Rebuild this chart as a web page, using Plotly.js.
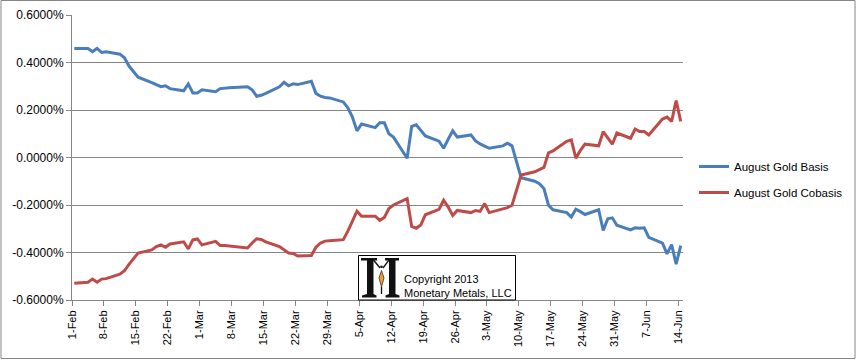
<!DOCTYPE html>
<html><head><meta charset="utf-8">
<script src="https://cdn.plot.ly/plotly-3.0.1.min.js"></script>
<style>html,body{margin:0;padding:0;background:#fff;}#chart{width:858px;height:361px;}</style>
</head><body><div id="chart"></div>
<script>
// Trading days, 1-Feb-2013 .. 14-Jun-2013
const dates = [
 '2013-02-01','2013-02-04','2013-02-05','2013-02-06','2013-02-07','2013-02-08','2013-02-11','2013-02-12','2013-02-13','2013-02-14','2013-02-15','2013-02-18','2013-02-19','2013-02-20','2013-02-21','2013-02-22','2013-02-25','2013-02-26','2013-02-27','2013-02-28',
 '2013-03-01','2013-03-04','2013-03-05','2013-03-06','2013-03-07','2013-03-08','2013-03-11','2013-03-12','2013-03-13','2013-03-14','2013-03-15','2013-03-18','2013-03-19','2013-03-20','2013-03-21','2013-03-22','2013-03-25','2013-03-26','2013-03-27','2013-03-28','2013-03-29',
 '2013-04-01','2013-04-02','2013-04-03','2013-04-04','2013-04-05','2013-04-08','2013-04-09','2013-04-10','2013-04-11','2013-04-12','2013-04-15','2013-04-16','2013-04-17','2013-04-18','2013-04-19','2013-04-22','2013-04-23','2013-04-24','2013-04-25','2013-04-26','2013-04-29','2013-04-30',
 '2013-05-01','2013-05-02','2013-05-03','2013-05-06','2013-05-07','2013-05-08','2013-05-09','2013-05-10','2013-05-13','2013-05-14','2013-05-15','2013-05-16','2013-05-17','2013-05-20','2013-05-21','2013-05-22','2013-05-23','2013-05-24','2013-05-27','2013-05-28','2013-05-29','2013-05-30','2013-05-31',
 '2013-06-03','2013-06-04','2013-06-05','2013-06-06','2013-06-07','2013-06-10','2013-06-11','2013-06-12','2013-06-13','2013-06-14'
];
// August Gold Basis (%)
const basis = [
 0.459,0.459,0.446,0.459,0.442,0.445,0.435,0.420,0.385,0.360,0.338,0.315,0.305,0.298,0.302,0.290,0.281,0.310,0.272,0.272,
 0.285,0.277,0.290,0.293,0.294,0.295,0.298,0.285,0.258,0.262,0.270,0.298,0.317,0.302,0.310,0.307,0.321,0.270,0.258,0.253,0.251,
 0.234,0.209,0.170,0.112,0.141,0.126,0.146,0.146,0.100,0.086,-0.003,0.131,0.138,0.112,0.091,0.069,0.039,0.077,0.112,0.086,0.095,0.070,
 0.057,0.048,0.039,0.049,0.060,0.049,-0.018,-0.085,-0.100,-0.110,-0.131,-0.201,-0.220,-0.232,-0.251,-0.218,-0.228,-0.240,-0.220,-0.307,-0.258,-0.254,-0.285,
 -0.305,-0.296,-0.298,-0.296,-0.336,-0.361,-0.406,-0.367,-0.449,-0.371
];
// August Gold Cobasis (%)
const cobasis = [
 -0.529,-0.525,-0.512,-0.525,-0.512,-0.510,-0.491,-0.477,-0.450,-0.425,-0.402,-0.389,-0.375,-0.368,-0.378,-0.364,-0.355,-0.385,-0.347,-0.343,
 -0.368,-0.353,-0.371,-0.371,-0.373,-0.376,-0.381,-0.360,-0.342,-0.345,-0.355,-0.375,-0.390,-0.402,-0.404,-0.415,-0.413,-0.378,-0.360,-0.352,-0.350,
 -0.346,-0.310,-0.270,-0.226,-0.247,-0.247,-0.265,-0.252,-0.215,-0.200,-0.173,-0.290,-0.298,-0.284,-0.241,-0.218,-0.180,-0.209,-0.244,-0.223,-0.232,-0.223,
 -0.227,-0.194,-0.232,-0.218,-0.211,-0.201,-0.138,-0.074,-0.060,-0.052,-0.042,0.020,0.028,0.068,0.074,-0.003,0.030,0.056,0.049,0.109,0.080,0.056,0.103,
 0.081,0.120,0.109,0.109,0.095,0.162,0.170,0.152,0.240,0.152
];
const seriesNames = ['August Gold Basis','August Gold Cobasis'];
const seriesColors = ['#4A7EBB','#BE4B48'];
const yTicks = [-0.6,-0.4,-0.2,0,0.2,0.4,0.6];
const yTickText = yTicks.map(v => v.toFixed(4) + '%');
const copyrightLines = ['Copyright 2013','Monetary Metals, LLC'];

const FONT = 'Liberation Sans, Arial, sans-serif';
const W = 858, H = 361, ML = 72, MR = 175, MT = 15, MB = 61;
const PW = W - ML - MR, PH = H - MT - MB;
const px = x => (x - ML) / PW;
const py = y => (H - MB - y) / PH;
const path = pts => 'M' + pts.map(p => px(p[0]).toFixed(5) + ',' + py(p[1]).toFixed(5)).join(' L') + ' Z';
const line = pts => 'M' + pts.map(p => px(p[0]).toFixed(5) + ',' + py(p[1]).toFixed(5)).join(' L');

const xs = dates.map(d => d + ' 12:00');
const traces = [basis, cobasis].map((ys, i) => ({
  type: 'scatter', mode: 'lines', x: xs, y: ys, name: seriesNames[i],
  legendgroup: 'g' + i,
  line: {color: seriesColors[i], width: 3}
}));

const shapes = [
  // chart outer frame
  {type:'rect', xref:'paper', yref:'paper', x0:px(1), x1:px(855), y0:py(358.5), y1:py(0.5), line:{color:'#868686', width:1}},
  // logo box
  {type:'rect', xref:'paper', yref:'paper', x0:px(358.5), x1:px(515.5), y0:py(300), y1:py(255.5), fillcolor:'#fff', line:{color:'#000', width:1}, layer:'above'},
  // logo "M" stems
  {type:'path', xref:'paper', yref:'paper', path: path([[361,258],[377,258],[377,260.5],[373.5,260.5],[373.5,294],[376.5,295.5],[376.5,297.5],[362,297.5],[362,295.5],[367,294],[367,260.5],[361,260.5]]), fillcolor:'#111', line:{width:0}},
  {type:'path', xref:'paper', yref:'paper', path: path([[385,258],[399,258],[399,260.5],[395.5,260.5],[395.5,294],[399.5,295.5],[399.5,297.5],[385.5,297.5],[385.5,295.5],[389,294],[389,260.5],[385,260.5]]), fillcolor:'#111', line:{width:0}},
  {type:'path', xref:'paper', yref:'paper', path: line([[373.5,260],[380,268]]), line:{color:'#111', width:1.3}},
  {type:'path', xref:'paper', yref:'paper', path: line([[389,260],[383,268]]), line:{color:'#111', width:1.3}},
  {type:'circle', xref:'paper', yref:'paper', x0:px(380.2), x1:px(382.8), y0:py(268), y1:py(265.4), fillcolor:'#111', line:{width:0}},
  {type:'path', xref:'paper', yref:'paper', path: path([[381.5,270.5],[384,278],[381.5,287],[379,278]]), fillcolor:'#F0A030', line:{color:'#333', width:0.8}},
  {type:'path', xref:'paper', yref:'paper', path: line([[381.5,287],[381.5,294]]), line:{color:'#111', width:1.3}}
];

const annotations = copyrightLines.map((t, i) => ({
  xref:'paper', yref:'paper', x:px(401.5), y:py(279 + i*13.5), xanchor:'left', yanchor:'middle',
  text:t, showarrow:false, font:{family:FONT, size:11, color:'#000'}
}));

const layout = {
  width: W, height: H,
  margin: {l: ML, r: MR, t: MT, b: MB, pad: 0, autoexpand: false},
  paper_bgcolor: '#fff', plot_bgcolor: '#fff',
  font: {family: FONT, color: '#000'},
  showlegend: true,
  legend: {xref: 'container', yref: 'container', x: 694 / W, xanchor: 'left', y: 1 - 152 / H, yanchor: 'top',
           font: {family: FONT, size: 11.5, color: '#000'},
           traceorder: 'grouped', tracegroupgap: 7, bgcolor: 'rgba(0,0,0,0)'},
  xaxis: {
    type: 'date', range: ['2013-02-01', '2013-06-15'],
    tick0: '2013-02-01', dtick: 7*24*3600*1000, tickformat: '%-d-%b', tickangle: -90,
    ticks: 'outside', ticklen: 5, tickcolor: '#868686',
    showgrid: false, zeroline: false, automargin: false,
    showline: true, linecolor: '#868686', linewidth: 1,
    tickfont: {family: FONT, size: 11, color: '#000'}, fixedrange: true
  },
  yaxis: {
    range: [-0.6, 0.6], tickvals: yTicks, ticktext: yTickText,
    ticks: 'outside', ticklen: 5, tickcolor: '#868686', automargin: false,
    showgrid: true, gridcolor: '#868686', gridwidth: 1,
    zeroline: false, showline: true, linecolor: '#868686', linewidth: 1,
    tickfont: {family: FONT, size: 12, color: '#000'}, fixedrange: true
  },
  shapes: shapes,
  annotations: annotations
};

Plotly.newPlot('chart', traces, layout, {displayModeBar: false, staticPlot: true});
</script>
</body></html>
